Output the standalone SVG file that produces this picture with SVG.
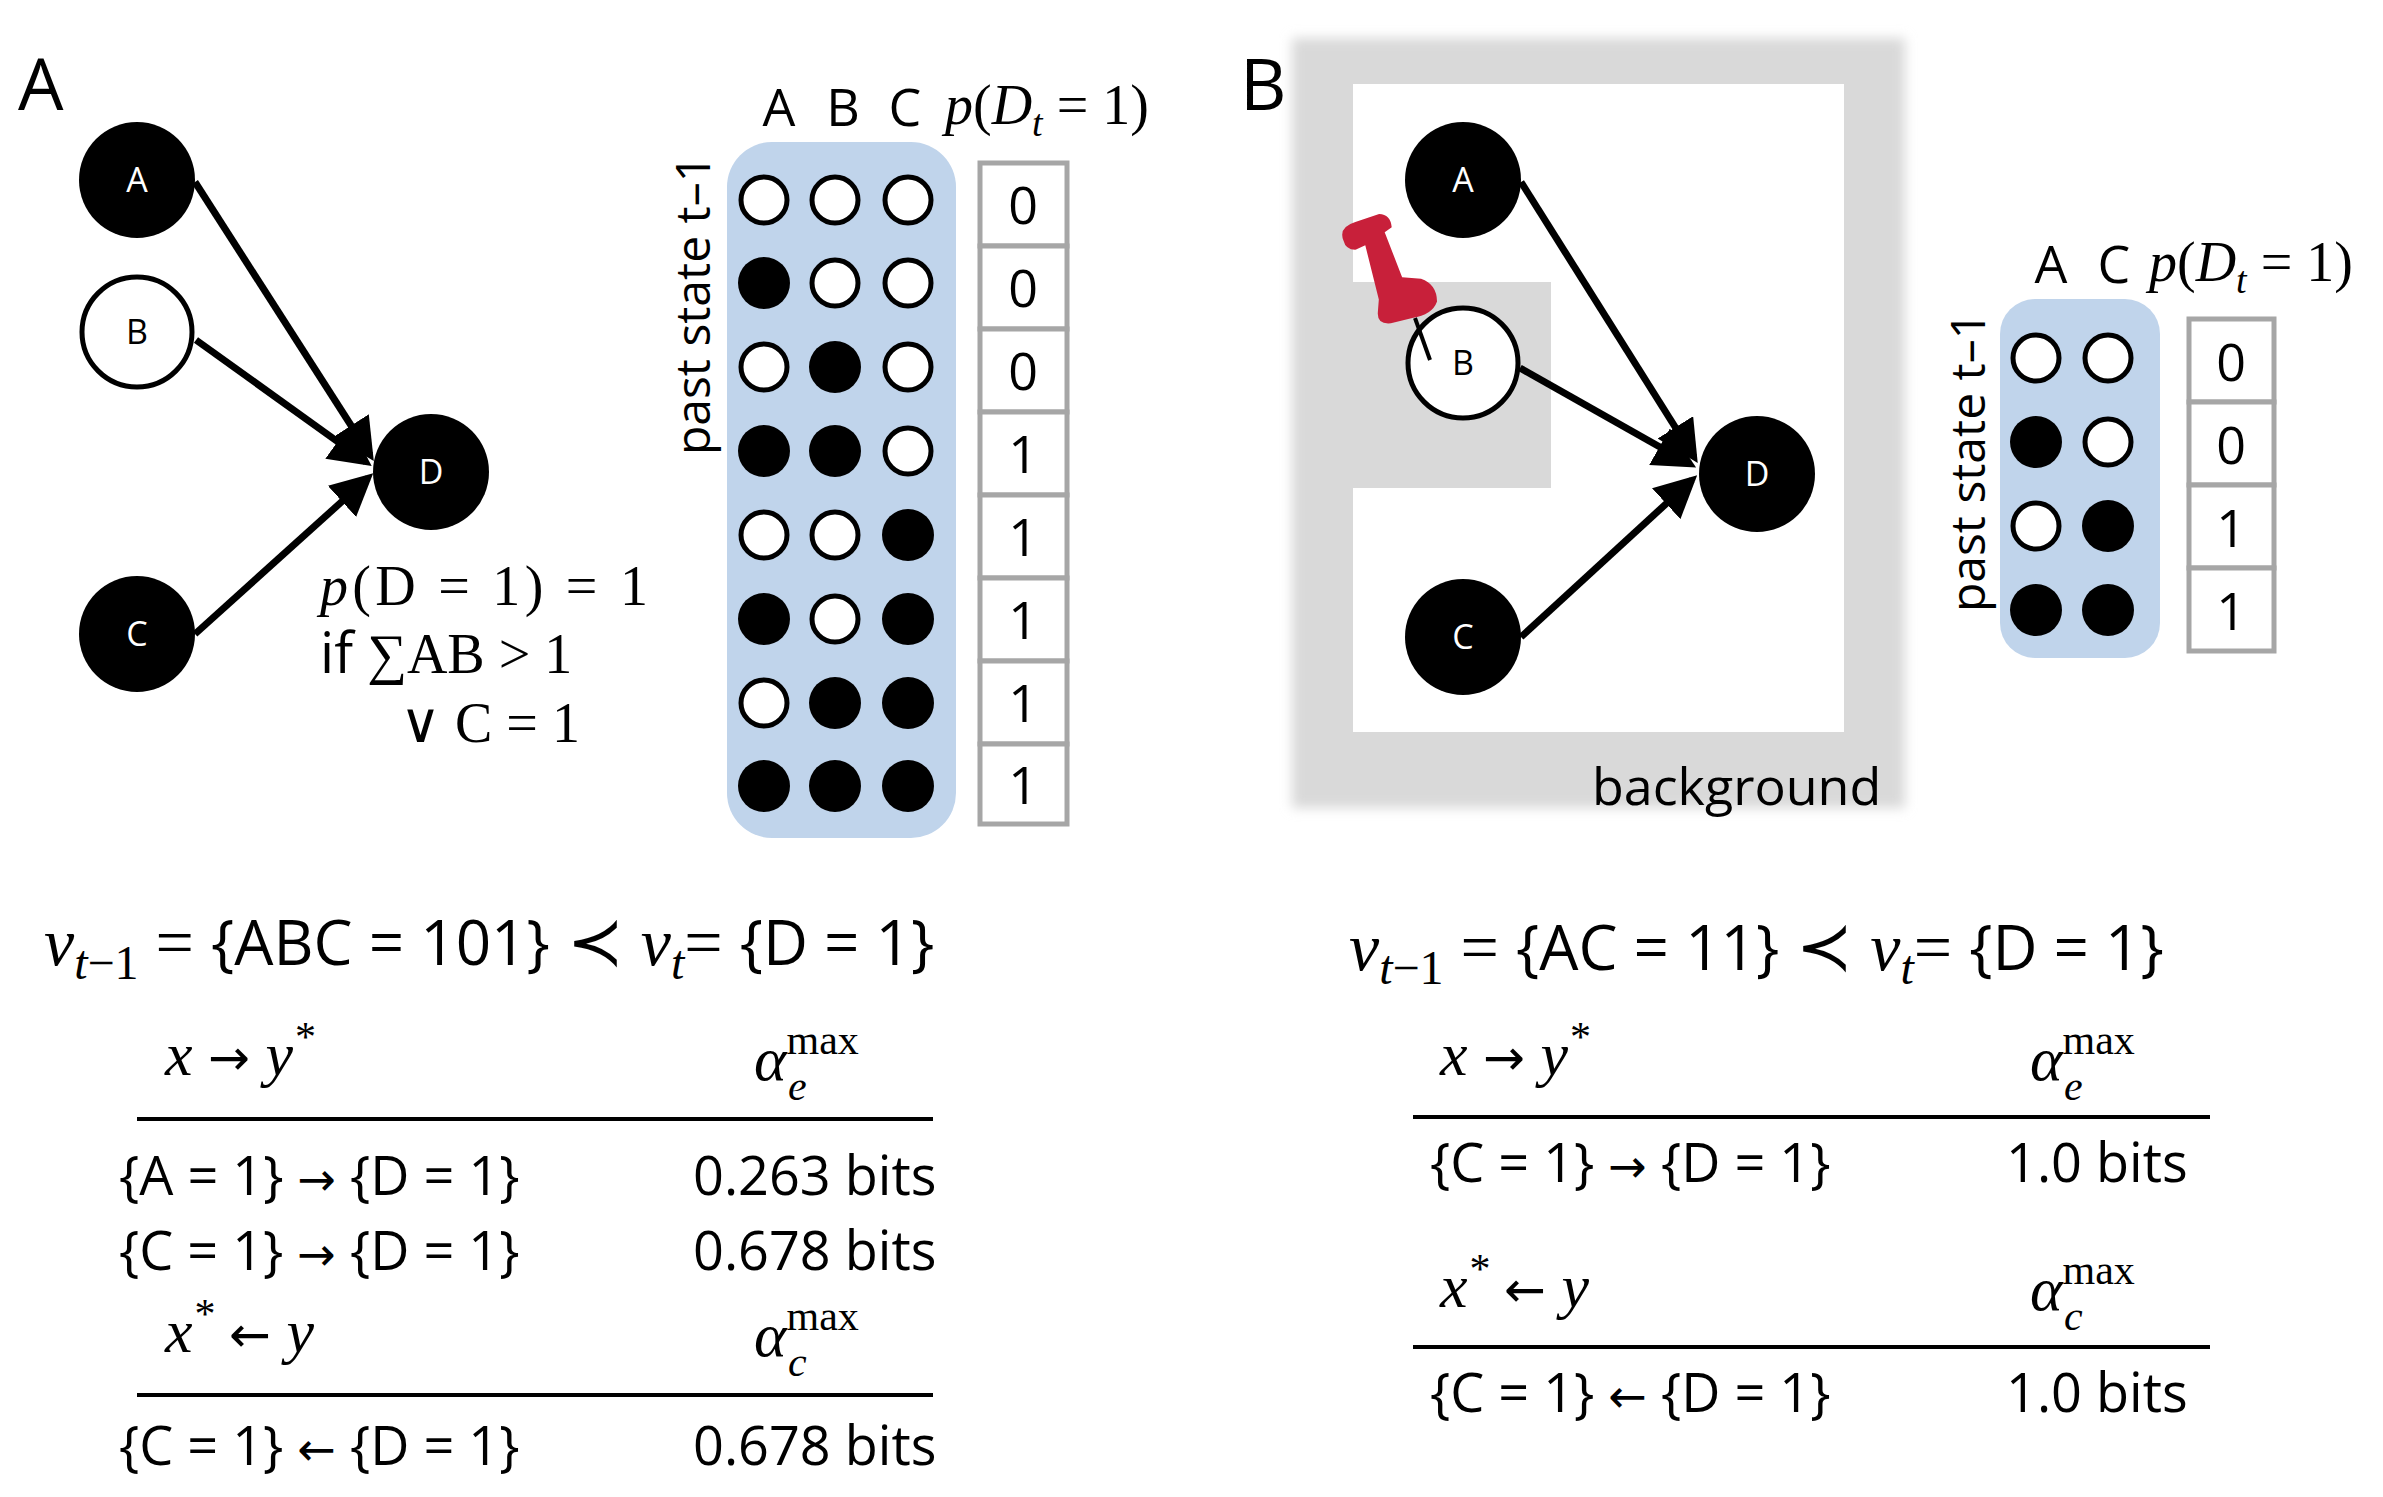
<svg xmlns="http://www.w3.org/2000/svg" width="2383" height="1497" viewBox="0 0 2383 1497">
<style>
.s{font-family:"Open Sans","Liberation Sans",sans-serif;fill:#000}
.m{font-family:"Liberation Serif",serif;fill:#000}
.i{font-style:italic}
.ar{font-family:"DejaVu Sans",sans-serif}
.nl{font-family:"Open Sans",sans-serif;font-size:34px;text-anchor:middle}
.blk{fill:#000}
.wht{fill:#fff;stroke:#000;stroke-width:5}
.dw{fill:#fff;stroke:#000;stroke-width:5}
.box{fill:#fff;stroke:#a6a6a6;stroke-width:5}
.ed{stroke:#000;stroke-width:7;fill:none;marker-end:url(#ar)}
.rule{stroke:#000;stroke-width:4}
</style>
<defs>
<marker id="ar" markerWidth="6" markerHeight="6" refX="5" refY="3" orient="auto" markerUnits="strokeWidth"><path d="M0,0 L6,3 L0,6 z" fill="#000"/></marker>
<filter id="bl"><feGaussianBlur stdDeviation="6"/></filter>
</defs>
<rect width="2383" height="1497" fill="#fff"/>

<!-- Panel A -->
<text class="s" x="18" y="110" font-size="72">A</text>
<g id="connectors-A">
<line class="ed" x1="195" y1="182" x2="370" y2="455"/>
<line class="ed" x1="196" y1="340" x2="366" y2="462"/>
<line class="ed" x1="195" y1="634" x2="368" y2="478"/>
</g>
<g id="nodeA-A"><circle class="blk" cx="137" cy="180" r="58"/><text class="nl" x="137" y="192" fill="#fff">A</text></g>
<g id="nodeB-A"><circle class="wht" cx="137" cy="332" r="55"/><text class="nl" x="137" y="344">B</text></g>
<g id="nodeC-A"><circle class="blk" cx="137" cy="634" r="58"/><text class="nl" x="137" y="646" fill="#fff">C</text></g>
<g id="nodeD-A"><circle class="blk" cx="431" cy="472" r="58"/><text class="nl" x="431" y="484" fill="#fff">D</text></g>
<text class="m" font-size="56" x="320" y="605" textLength="328"><tspan class="i">p</tspan>(D = 1) = 1</text>
<text class="m" font-size="56" x="320" y="673"><tspan class="s">if</tspan>   ∑AB &gt; 1</text>
<text class="m" font-size="56" x="400" y="742">∨ C = 1</text>

<g id="tableA">
<text class="s" font-size="52" x="779" y="126" text-anchor="middle">A</text>
<text class="s" font-size="52" x="843" y="126" text-anchor="middle">B</text>
<text class="s" font-size="52" x="905" y="126" text-anchor="middle">C</text>
<text class="m" font-size="56" x="945" y="124"><tspan class="i">p</tspan>(<tspan class="i">D</tspan><tspan class="i" font-size="38" dy="12">t</tspan><tspan dy="-12"> = 1)</tspan></text>
<text class="s" font-size="48" transform="translate(710,305) rotate(-90)" text-anchor="middle">past state t–1</text>
<rect x="727" y="142" width="229" height="696" rx="45" fill="#c0d4eb"/>
<g>
<circle class="dw" cx="764" cy="200" r="23"/><circle class="dw" cx="835" cy="200" r="23"/><circle class="dw" cx="908" cy="200" r="23"/>
<circle class="blk" cx="764" cy="283" r="26"/><circle class="dw" cx="835" cy="283" r="23"/><circle class="dw" cx="908" cy="283" r="23"/>
<circle class="dw" cx="764" cy="367" r="23"/><circle class="blk" cx="835" cy="367" r="26"/><circle class="dw" cx="908" cy="367" r="23"/>
<circle class="blk" cx="764" cy="451" r="26"/><circle class="blk" cx="835" cy="451" r="26"/><circle class="dw" cx="908" cy="451" r="23"/>
<circle class="dw" cx="764" cy="535" r="23"/><circle class="dw" cx="835" cy="535" r="23"/><circle class="blk" cx="908" cy="535" r="26"/>
<circle class="blk" cx="764" cy="619" r="26"/><circle class="dw" cx="835" cy="619" r="23"/><circle class="blk" cx="908" cy="619" r="26"/>
<circle class="dw" cx="764" cy="703" r="23"/><circle class="blk" cx="835" cy="703" r="26"/><circle class="blk" cx="908" cy="703" r="26"/>
<circle class="blk" cx="764" cy="786" r="26"/><circle class="blk" cx="835" cy="786" r="26"/><circle class="blk" cx="908" cy="786" r="26"/>
</g>
<g>
<rect class="box" x="980" y="163" width="87" height="83"/><rect class="box" x="980" y="246" width="87" height="83"/>
<rect class="box" x="980" y="329" width="87" height="83"/><rect class="box" x="980" y="412" width="87" height="83"/>
<rect class="box" x="980" y="495" width="87" height="83"/><rect class="box" x="980" y="578" width="87" height="83"/>
<rect class="box" x="980" y="661" width="87" height="83"/><rect class="box" x="980" y="744" width="87" height="80"/>
</g>
<g class="s" font-size="52" text-anchor="middle">
<text x="1023" y="224">0</text><text x="1023" y="307">0</text><text x="1023" y="390">0</text><text x="1023" y="473">1</text>
<text x="1023" y="556">1</text><text x="1023" y="639">1</text><text x="1023" y="722">1</text><text x="1023" y="804">1</text>
</g>
</g>

<!-- Panel B -->
<rect x="1292" y="38" width="613" height="770" fill="#d9d9d9" filter="url(#bl)"/>
<rect x="1353" y="84" width="491" height="648" fill="#fff"/>
<rect x="1353" y="282" width="198" height="206" fill="#d9d9d9"/>
<text class="s" x="1240" y="110" font-size="72">B</text>
<text class="s" x="1592" y="805" font-size="52">background</text>
<g id="connectors-B">
<line class="ed" x1="1521" y1="182" x2="1694" y2="457"/>
<line class="ed" x1="1520" y1="368" x2="1690" y2="464"/>
<line class="ed" x1="1521" y1="637" x2="1692" y2="480"/>
</g>
<g id="nodeA-B"><circle class="blk" cx="1463" cy="180" r="58"/><text class="nl" x="1463" y="192" fill="#fff">A</text></g>
<g id="nodeB-B"><circle class="wht" cx="1463" cy="363" r="55"/><text class="nl" x="1463" y="375">B</text></g>
<g id="nodeC-B"><circle class="blk" cx="1463" cy="637" r="58"/><text class="nl" x="1463" y="649" fill="#fff">C</text></g>
<g id="nodeD-B"><circle class="blk" cx="1757" cy="474" r="58"/><text class="nl" x="1757" y="486" fill="#fff">D</text></g>
<g id="pin">
<line x1="1415" y1="318" x2="1430" y2="360" stroke="#000" stroke-width="4"/>
<g transform="rotate(-14 1390 270)">
<path d="M1352,230 Q1350,216 1368,215 L1393,213 Q1404,216 1402,229 L1394,232 L1400,280 L1418,286 Q1432,295 1428,312 Q1420,324 1400,322 L1378,322 Q1364,320 1368,308 L1372,296 L1372,240 L1362,242 Q1352,240 1352,230 Z" fill="#c8203a"/>
</g>
</g>

<g id="tableB">
<text class="s" font-size="52" x="2051" y="283" text-anchor="middle">A</text>
<text class="s" font-size="52" x="2114" y="283" text-anchor="middle">C</text>
<text class="m" font-size="56" x="2149" y="281"><tspan class="i">p</tspan>(<tspan class="i">D</tspan><tspan class="i" font-size="38" dy="12">t</tspan><tspan dy="-12"> = 1)</tspan></text>
<text class="s" font-size="48" transform="translate(1985,462) rotate(-90)" text-anchor="middle">past state t–1</text>
<rect x="2000" y="299" width="160" height="359" rx="35" fill="#c0d4eb"/>
<circle class="dw" cx="2036" cy="358" r="23"/><circle class="dw" cx="2108" cy="358" r="23"/>
<circle class="blk" cx="2036" cy="442" r="26"/><circle class="dw" cx="2108" cy="442" r="23"/>
<circle class="dw" cx="2036" cy="526" r="23"/><circle class="blk" cx="2108" cy="526" r="26"/>
<circle class="blk" cx="2036" cy="610" r="26"/><circle class="blk" cx="2108" cy="610" r="26"/>
<rect class="box" x="2189" y="319" width="85" height="83"/><rect class="box" x="2189" y="402" width="85" height="83"/>
<rect class="box" x="2189" y="485" width="85" height="83"/><rect class="box" x="2189" y="568" width="85" height="83"/>
<g class="s" font-size="52" text-anchor="middle">
<text x="2231" y="381">0</text><text x="2231" y="464">0</text><text x="2231" y="547">1</text><text x="2231" y="630">1</text>
</g>
</g>

<!-- Bottom left -->
<text class="m" font-size="68" x="44" y="965"><tspan class="i">v</tspan><tspan class="i" font-size="48" dy="14">t</tspan><tspan font-size="48">−1</tspan><tspan dy="-14"> = </tspan><tspan class="s" font-size="62">{ABC = 101}</tspan> ≺ <tspan class="i">v</tspan><tspan class="i" font-size="48" dy="14">t</tspan><tspan dy="-14">= </tspan><tspan class="s" font-size="62">{D = 1}</tspan></text>
<text class="m i" font-size="62" x="165" y="1075">x <tspan class="ar" font-style="normal" font-size="50">→</tspan> y<tspan font-size="42" dy="-24">*</tspan></text>
<text class="m" font-size="62" x="754" y="1080"><tspan class="i">α</tspan><tspan font-size="42" dy="-26">max</tspan></text>
<text class="m i" font-size="42" x="788" y="1100">e</text>
<line class="rule" x1="137" y1="1119" x2="933" y2="1119"/>
<text class="s" font-size="54" x="119" y="1195">{A = 1} <tspan class="ar" font-size="46">→</tspan> {D = 1}</text>
<text class="s" font-size="54" x="693" y="1195">0.263 bits</text>
<text class="s" font-size="54" x="119" y="1270">{C = 1} <tspan class="ar" font-size="46">→</tspan> {D = 1}</text>
<text class="s" font-size="54" x="693" y="1270">0.678 bits</text>
<text class="m i" font-size="62" x="165" y="1352">x<tspan font-size="42" dy="-24">*</tspan><tspan dy="24"> </tspan><tspan class="ar" font-style="normal" font-size="50">←</tspan> y</text>
<text class="m" font-size="62" x="754" y="1356"><tspan class="i">α</tspan><tspan font-size="42" dy="-26">max</tspan></text>
<text class="m i" font-size="42" x="788" y="1376">c</text>
<line class="rule" x1="137" y1="1395" x2="933" y2="1395"/>
<text class="s" font-size="54" x="119" y="1465">{C = 1} <tspan class="ar" font-size="46">←</tspan> {D = 1}</text>
<text class="s" font-size="54" x="693" y="1465">0.678 bits</text>

<!-- Bottom right -->
<text class="m" font-size="68" x="1349" y="970"><tspan class="i">v</tspan><tspan class="i" font-size="48" dy="14">t</tspan><tspan font-size="48">−1</tspan><tspan dy="-14"> = </tspan><tspan class="s" font-size="62">{AC = 11}</tspan> ≺ <tspan class="i">v</tspan><tspan class="i" font-size="48" dy="14">t</tspan><tspan dy="-14">= </tspan><tspan class="s" font-size="62">{D = 1}</tspan></text>
<text class="m i" font-size="62" x="1440" y="1075">x <tspan class="ar" font-style="normal" font-size="50">→</tspan> y<tspan font-size="42" dy="-24">*</tspan></text>
<text class="m" font-size="62" x="2030" y="1080"><tspan class="i">α</tspan><tspan font-size="42" dy="-26">max</tspan></text>
<text class="m i" font-size="42" x="2064" y="1100">e</text>
<line class="rule" x1="1413" y1="1117" x2="2210" y2="1117"/>
<text class="s" font-size="54" x="1430" y="1182">{C = 1} <tspan class="ar" font-size="46">→</tspan> {D = 1}</text>
<text class="s" font-size="54" x="2006" y="1182">1.0 bits</text>
<text class="m i" font-size="62" x="1440" y="1307">x<tspan font-size="42" dy="-24">*</tspan><tspan dy="24"> </tspan><tspan class="ar" font-style="normal" font-size="50">←</tspan> y</text>
<text class="m" font-size="62" x="2030" y="1310"><tspan class="i">α</tspan><tspan font-size="42" dy="-26">max</tspan></text>
<text class="m i" font-size="42" x="2064" y="1330">c</text>
<line class="rule" x1="1413" y1="1347" x2="2210" y2="1347"/>
<text class="s" font-size="54" x="1430" y="1412">{C = 1} <tspan class="ar" font-size="46">←</tspan> {D = 1}</text>
<text class="s" font-size="54" x="2006" y="1412">1.0 bits</text>
</svg>
